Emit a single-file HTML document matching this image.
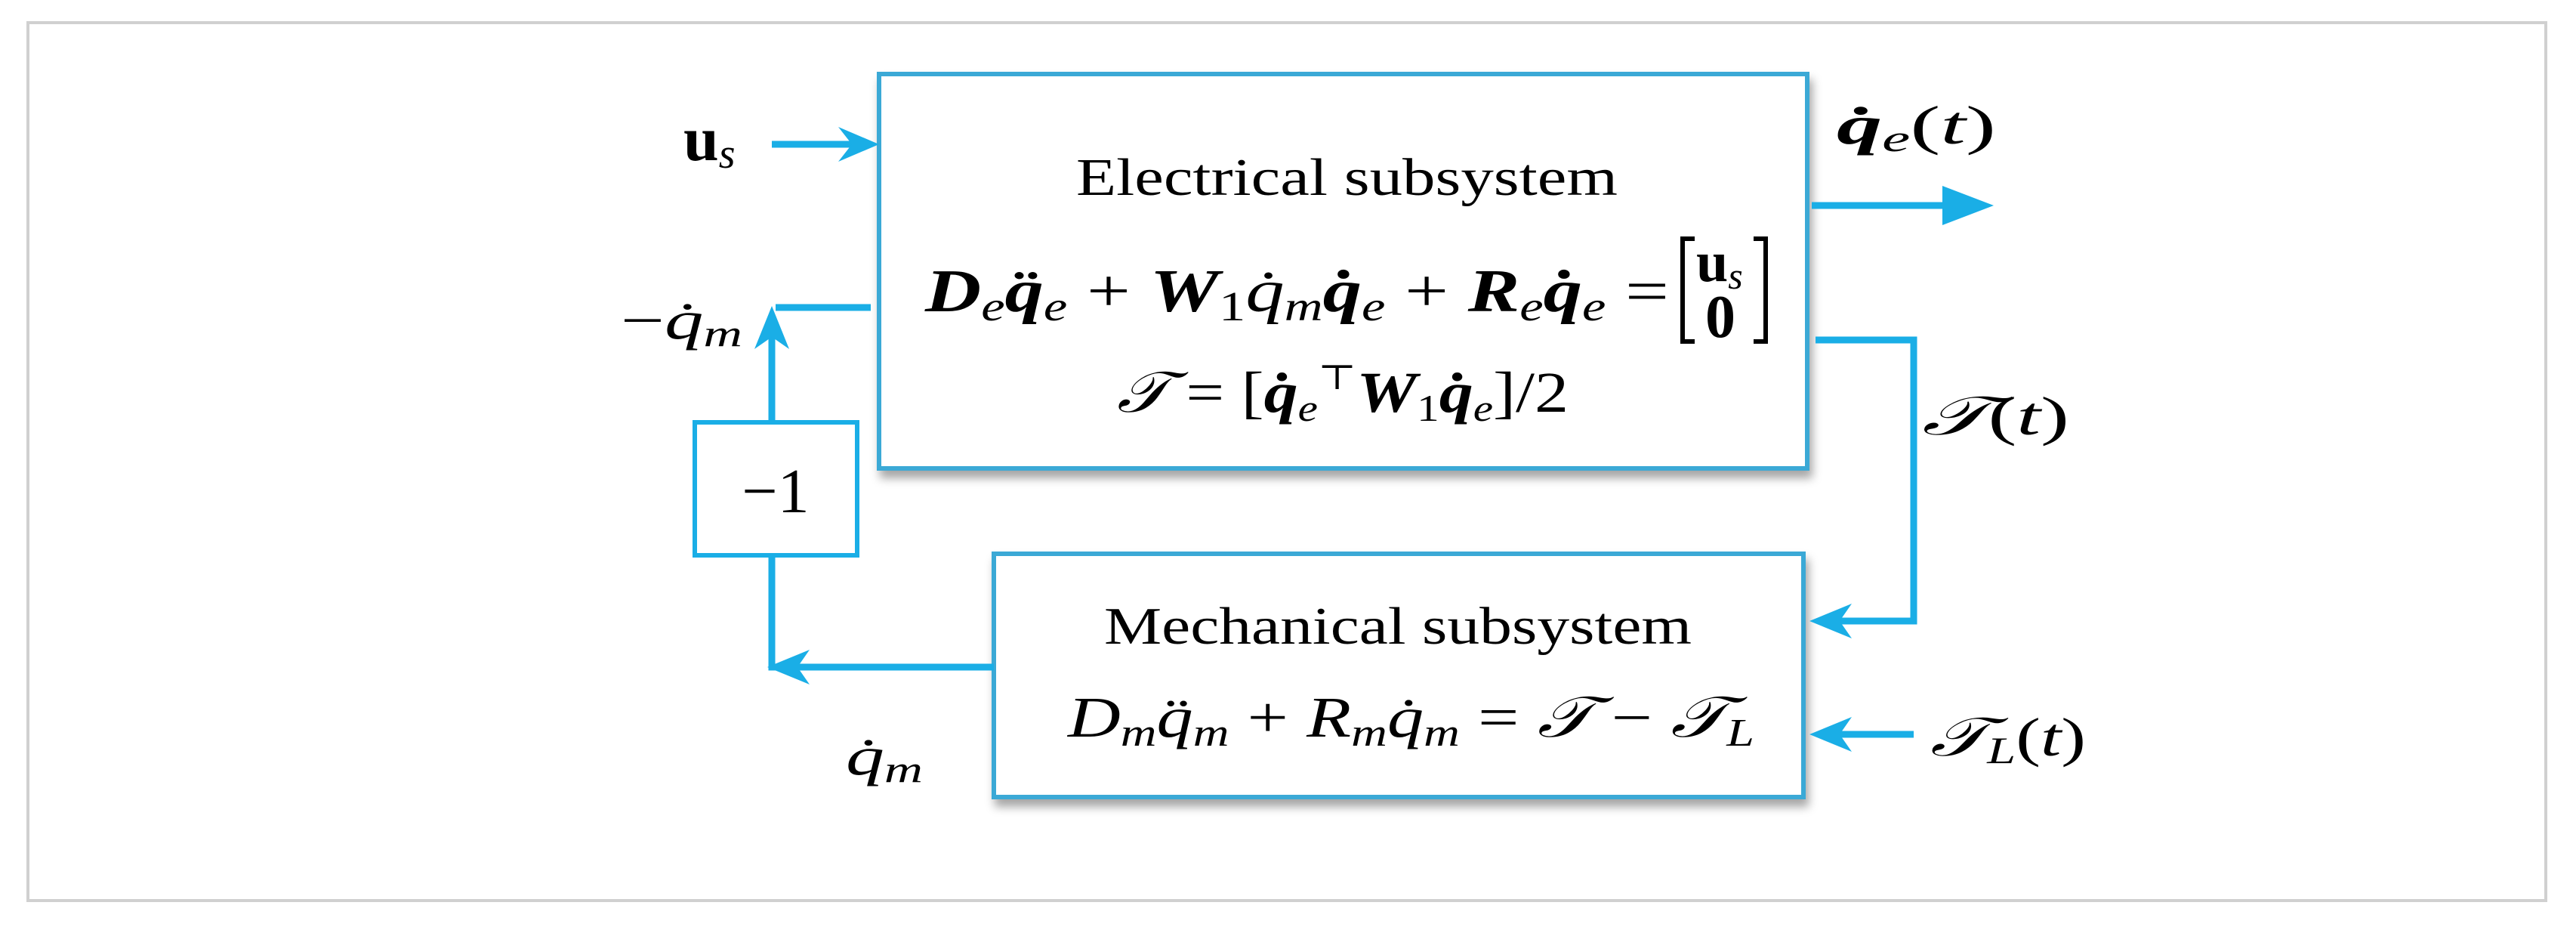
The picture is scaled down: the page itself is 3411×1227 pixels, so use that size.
<!DOCTYPE html>
<html><head><meta charset="utf-8"><style>
html,body{margin:0;padding:0;background:#fff}
svg{display:block}
text{font-family:"Liberation Serif","DejaVu Serif",serif;fill:#000}
.it{font-style:italic}
.b{font-weight:bold}
</style></head><body>
<svg width="3411" height="1227" viewBox="0 0 3411 1227" xmlns="http://www.w3.org/2000/svg">
<defs>
<filter id="sh" x="-5%" y="-5%" width="110%" height="115%"><feDropShadow dx="4" dy="10" stdDeviation="6" flood-color="#000" flood-opacity="0.35"/></filter>
</defs>
<rect x="37" y="30" width="3334" height="1162" fill="#fff" stroke="#d0d0d0" stroke-width="4"/>
<rect x="1164" y="98" width="1229" height="522" fill="#fff" stroke="#3aa9d6" stroke-width="6" filter="url(#sh)"/>
<rect x="1316" y="733" width="1072" height="322" fill="#fff" stroke="#3aa9d6" stroke-width="6" filter="url(#sh)"/>
<rect x="920" y="559" width="215" height="176" fill="#fff" stroke="#1aaee6" stroke-width="6"/>
<g stroke="#1aaee6" stroke-width="9" fill="none">
<line x1="1022" y1="191" x2="1150" y2="191"/>
<line x1="2399" y1="272" x2="2600" y2="272"/>
<polyline points="2404,450 2534,450 2534,822 2410,822"/>
<line x1="2534" y1="972" x2="2410" y2="972"/>
<polyline points="1316,883 1022,883 1022,735"/>
<line x1="1022" y1="559" x2="1022" y2="425"/>
<line x1="1027" y1="407" x2="1153" y2="407"/>
</g>
<g fill="#1aaee6">
<polygon points="1164,191 1110,168 1128,191 1110,214"/>
<polygon points="2640,272 2572,246 2572,298"/>
<polygon points="2396,822 2452,799 2436,822 2452,845"/>
<polygon points="2396,972 2452,949 2436,972 2452,995"/>
<polygon points="1016,883 1072,860 1056,883 1072,906"/>
<polygon points="1022,405 999,462 1022,446 1045,462"/>
</g>
<text x="1425" y="258" font-size="70" textLength="717" lengthAdjust="spacingAndGlyphs">Electrical subsystem</text>
<text x="1225" y="412" font-size="80" textLength="985" lengthAdjust="spacingAndGlyphs"><tspan class="it b">D</tspan><tspan class="it" font-size="55" dy="12">e</tspan><tspan class="it b" dy="-12">q̈</tspan><tspan class="it" font-size="55" dy="12">e</tspan><tspan dy="-12"> + </tspan><tspan class="it b">W</tspan><tspan font-size="55" dy="12">1</tspan><tspan class="it" dy="-12">q̇</tspan><tspan class="it" font-size="55" dy="12">m</tspan><tspan class="it b" dy="-12">q̇</tspan><tspan class="it" font-size="55" dy="12">e</tspan><tspan dy="-12"> + </tspan><tspan class="it b">R</tspan><tspan class="it" font-size="55" dy="12">e</tspan><tspan class="it b" dy="-12">q̇</tspan><tspan class="it" font-size="55" dy="12">e</tspan><tspan dy="-12"> =</tspan></text>
<path d="M2244,316 h-16 v136 h16 M2322,316 h16 v136 h-16" stroke="#000" stroke-width="6" fill="none"/>
<text x="2246" y="372" font-size="76" class="b">u<tspan class="it" font-weight="normal" font-size="50" dy="10">s</tspan></text>
<text x="2258" y="446" font-size="80" class="b">0</text>
<text x="1479" y="545" font-size="76" textLength="598" lengthAdjust="spacingAndGlyphs"><tspan class="it">𝒯</tspan> = [<tspan class="it b">q̇</tspan><tspan class="it" font-size="50" dy="12">e</tspan><tspan font-size="46" dy="-42">⊤</tspan><tspan class="it b" dy="30">W</tspan><tspan font-size="50" dy="12">1</tspan><tspan class="it b" dy="-12">q̇</tspan><tspan class="it" font-size="50" dy="12">e</tspan><tspan dy="-12">]/2</tspan></text>
<text x="1462" y="852" font-size="70" textLength="778" lengthAdjust="spacingAndGlyphs">Mechanical subsystem</text>
<text x="1414" y="975" font-size="76" textLength="909" lengthAdjust="spacingAndGlyphs"><tspan class="it">D</tspan><tspan class="it" font-size="52" dy="12">m</tspan><tspan class="it" dy="-12">q̈</tspan><tspan class="it" font-size="52" dy="12">m</tspan><tspan dy="-12"> + </tspan><tspan class="it">R</tspan><tspan class="it" font-size="52" dy="12">m</tspan><tspan class="it" dy="-12">q̇</tspan><tspan class="it" font-size="52" dy="12">m</tspan><tspan dy="-12"> = </tspan><tspan class="it">𝒯</tspan> − <tspan class="it">𝒯</tspan><tspan class="it" font-size="52" dy="12">L</tspan></text>
<text x="1027" y="678" font-size="84" text-anchor="middle">−1</text>
<text x="905" y="212" font-size="84" class="b">u<tspan class="it" font-weight="normal" font-size="56" dy="10">s</tspan></text>
<text x="2432" y="190" font-size="72" textLength="211" lengthAdjust="spacingAndGlyphs"><tspan class="it b">q̇</tspan><tspan class="it" font-size="50" dy="10">e</tspan><tspan dy="-10">(</tspan><tspan class="it">t</tspan>)</text>
<text x="2545" y="575" font-size="72" textLength="195" lengthAdjust="spacingAndGlyphs"><tspan class="it">𝒯</tspan>(<tspan class="it">t</tspan>)</text>
<text x="2556" y="1000" font-size="72" textLength="206" lengthAdjust="spacingAndGlyphs"><tspan class="it">𝒯</tspan><tspan class="it" font-size="50" dy="10">L</tspan><tspan dy="-10">(</tspan><tspan class="it">t</tspan>)</text>
<text x="822" y="448" font-size="72" textLength="161" lengthAdjust="spacingAndGlyphs">−<tspan class="it">q̇</tspan><tspan class="it" font-size="50" dy="10">m</tspan></text>
<text x="1120" y="1025" font-size="72" textLength="102" lengthAdjust="spacingAndGlyphs"><tspan class="it">q̇</tspan><tspan class="it" font-size="50" dy="10">m</tspan></text>
</svg>
</body></html>
